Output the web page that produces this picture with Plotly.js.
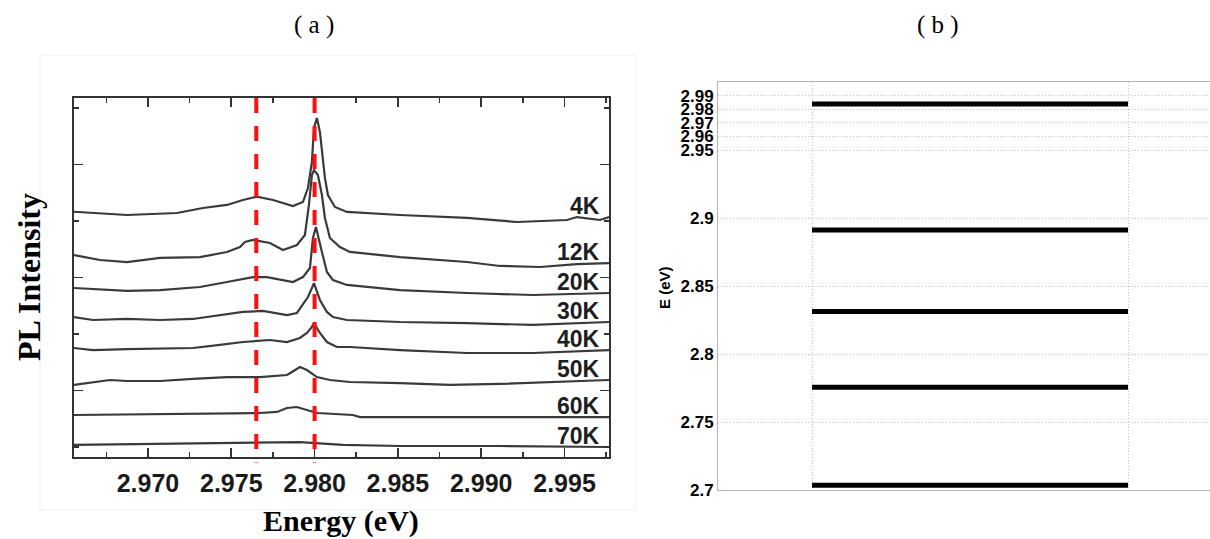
<!DOCTYPE html>
<html><head><meta charset="utf-8">
<script src="https://cdn.plot.ly/plotly-3.0.1.min.js"></script>
<style>html,body{margin:0;padding:0;background:#fff;}#chart{width:1210px;height:539px;}</style>
</head><body><div id="chart"></div>
<script>
// ---------- Panel (a): PL spectra ----------
const temps = ['4K','12K','20K','30K','40K','50K','60K','70K'];

const e4K = [2.96556,2.96694,2.96874,2.97174,2.97330,2.97474,2.97570,2.97654,2.97750,2.97870,2.97930,2.97960,2.97984,2.97996,2.98014,2.98032,2.98044,2.98062,2.98080,2.98122,2.98194,2.98513,2.98915,2.99215,2.99515,2.99575,2.99713,2.99767];
const i4K = [20.82,20.71,20.53,20.71,21.15,21.42,21.86,22.15,21.86,21.33,21.68,22.92,25.22,28.23,29.12,27.88,26.11,23.81,22.30,21.24,20.80,20.53,20.27,19.91,20.09,20.35,20.09,20.35];

const e12K = [2.96556,2.96712,2.96874,2.97072,2.97312,2.97474,2.97552,2.97582,2.97630,2.97732,2.97810,2.97894,2.97942,2.97966,2.97984,2.97996,2.98020,2.98044,2.98062,2.98092,2.98152,2.98212,2.98513,2.98915,2.99113,2.99353,2.99575,2.99767];
const i12K = [16.99,16.55,16.37,16.73,16.81,17.26,17.70,18.14,18.32,18.05,17.43,17.88,18.76,21.42,24.07,24.51,24.07,22.30,20.27,18.50,17.70,17.26,16.81,16.37,16.02,15.93,16.19,16.28];

const e20K = [2.96556,2.96874,2.97072,2.97312,2.97474,2.97630,2.97714,2.97810,2.97870,2.97930,2.97972,2.97990,2.98008,2.98044,2.98074,2.98110,2.98194,2.98513,2.98915,2.99311,2.99767];
const i20K = [14.07,13.81,13.89,14.16,14.60,15.04,15.04,14.78,14.60,15.04,15.84,18.50,19.47,17.26,15.49,14.78,14.34,13.89,13.63,13.45,13.63];

const e30K = [2.96556,2.96670,2.96874,2.97072,2.97270,2.97432,2.97570,2.97690,2.97834,2.97894,2.97930,2.97960,2.97984,2.97996,2.98032,2.98074,2.98110,2.98194,2.98513,2.98915,2.99311,2.99767];
const i30K = [11.50,11.24,11.33,11.24,11.33,11.68,11.95,12.04,11.68,11.86,12.57,13.27,14.07,14.51,13.01,11.95,11.50,11.24,11.06,10.97,10.80,11.06];

const e40K = [2.96556,2.96670,2.96874,2.97270,2.97432,2.97570,2.97732,2.97834,2.97912,2.97954,2.97984,2.97996,2.98032,2.98074,2.98134,2.98212,2.98513,2.98915,2.99311,2.99767];
const i40K = [8.76,8.58,8.67,8.76,9.03,9.29,9.47,9.29,9.65,10.09,10.62,10.97,10.09,9.29,8.85,8.85,8.58,8.32,8.32,8.58];

const e50K = [2.96556,2.96772,2.96874,2.97072,2.97270,2.97474,2.97672,2.97834,2.97864,2.97912,2.97954,2.98014,2.98092,2.98212,2.98513,2.98813,2.99113,2.99413,2.99767];
const i50K = [5.49,5.93,5.84,5.84,6.02,6.19,6.19,6.37,6.64,7.08,6.81,6.19,5.93,5.75,5.66,5.49,5.58,5.75,5.93];

const e60K = [2.96556,2.97312,2.97672,2.97774,2.97834,2.97894,2.97954,2.98014,2.98230,2.98272,2.99767];
const i60K = [2.83,2.92,3.01,3.10,3.45,3.54,3.27,3.01,2.83,2.65,2.65];

const e70K = [2.96556,2.97312,2.97912,2.98170,2.98513,2.99113,2.99767];
const i70K = [0.18,0.35,0.44,0.18,0.09,0.09,0.00];

const dashedE = [2.9765, 2.9800];
const energyTicks = [2.970, 2.975, 2.980, 2.985, 2.990, 2.995];

// ---------- Panel (b): energy levels ----------
const levelE = [2.9838, 2.8912, 2.8312, 2.7755, 2.7035];
const levelTicks = [2.7, 2.75, 2.8, 2.85, 2.9, 2.95, 2.96, 2.97, 2.98, 2.99];
const levelTickText = ['2.7','2.75','2.8','2.85','2.9','2.95','2.96','2.97','2.98','2.99'];

// ---------- build ----------
const W = 1210, H = 539;
const px = v => v / W, py = v => 1 - v / H;
const sans = 'Liberation Sans, Arial, sans-serif';
const serif = 'Liberation Serif, Times New Roman, serif';

const spectraE = [e4K, e12K, e20K, e30K, e40K, e50K, e60K, e70K];
const spectraI = [i4K, i12K, i20K, i30K, i40K, i50K, i60K, i70K];

const traces = [];
spectraE.forEach((ex, k) => {
  traces.push({x: ex, y: spectraI[k], type: 'scatter', mode: 'lines', xaxis: 'x', yaxis: 'y',
    line: {color: '#3a3a3a', width: 2.2}, hoverinfo: 'skip', showlegend: false});
});

const lx = [], ly = [];
levelE.forEach(e => { lx.push(1, 2, null); ly.push(e, e, null); });
traces.push({x: lx, y: ly, type: 'scatter', mode: 'lines', xaxis: 'x2', yaxis: 'y2',
  line: {color: '#000', width: 5}, hoverinfo: 'skip', showlegend: false});

const ann = (o) => Object.assign({xref: 'paper', yref: 'paper', showarrow: false, xanchor: 'center', yanchor: 'middle'}, o);
const annotations = [
  ann({text: '( a )', x: px(314), y: py(25), font: {family: serif, size: 25, color: '#000'}}),
  ann({text: '( b )', x: px(938), y: py(25), font: {family: serif, size: 25, color: '#000'}}),
  ann({text: 'PL Intensity', x: px(29), y: py(277), textangle: -90,
       font: {family: serif, size: 32, color: '#000', weight: 'bold'}}),
  ann({text: 'Energy (eV)', x: px(341), y: py(521),
       font: {family: serif, size: 30, color: '#000', weight: 'bold'}}),
  ann({text: 'E (eV)', x: px(664), y: py(288), textangle: -90,
       font: {family: sans, size: 15, color: '#000', weight: 'bold'}})
];
temps.forEach((t, k) => {
  const yy = spectraI[k][spectraI[k].length - 1] + 1.0;
  annotations.push({text: t, xref: 'x', yref: 'y', x: 2.99725, y: yy, xanchor: 'right', yanchor: 'middle',
    showarrow: false, font: {family: sans, size: 23, color: '#1e1e1e', weight: 'bold'}});
});

const shapes = [
  {type: 'rect', xref: 'paper', yref: 'paper', x0: px(40), x1: px(636), y0: py(510), y1: py(55),
   line: {color: '#efefef', width: 1}, layer: 'below'}
];
dashedE.forEach(e => {
  shapes.push({type: 'line', xref: 'x', yref: 'y domain', x0: e, x1: e, y0: 1, y1: -0.015,
    line: {color: '#ff1010', width: 4, dash: '15px,13px'}});
});

const layout = {
  width: W, height: H, margin: {l: 0, r: 0, t: 0, b: 0},
  paper_bgcolor: '#fff', plot_bgcolor: '#fff', showlegend: false,
  xaxis: {domain: [px(74), px(609)], range: [2.96556, 2.99767], tickvals: energyTicks,
    ticktext: energyTicks.map(v => v.toFixed(3)),
    ticks: 'inside', ticklen: 9, tickwidth: 1.6, tickcolor: '#333',
    minor: {dtick: 0.0025, tick0: 2.97, ticks: 'inside', ticklen: 5, tickwidth: 1.6, tickcolor: '#333'},
    showline: true, linecolor: '#333', linewidth: 2, mirror: 'ticks', showgrid: false, zeroline: false,
    tickfont: {family: sans, size: 25, color: '#1a1a1a', weight: 'bold'}, ticklabelstandoff: 3},
  yaxis: {domain: [py(457), py(98)], range: [-0.885, 30.885], tick0: 5, dtick: 10,
    ticks: 'inside', ticklen: 9, tickwidth: 1.6, tickcolor: '#333',
    minor: {dtick: 5, tick0: 0, ticks: 'inside', ticklen: 5, tickwidth: 1.6, tickcolor: '#333'},
    showticklabels: false, showline: true, linecolor: '#333', linewidth: 2, mirror: 'ticks',
    showgrid: false, zeroline: false},
  xaxis2: {domain: [px(718), 1], range: [0.7025, 2.2595], anchor: 'y2', tickvals: [1, 2],
    showticklabels: false, ticks: '', showgrid: true, gridcolor: '#c4c4c4', griddash: '1px,2px', gridwidth: 1,
    showline: true, linecolor: '#b5b5b5', linewidth: 1, mirror: true, zeroline: false},
  yaxis2: {domain: [py(490), py(82)], range: [2.7, 3.0], anchor: 'x2', tickvals: levelTicks,
    ticktext: levelTickText, ticks: '', showgrid: true, gridcolor: '#c4c4c4', griddash: '1px,2px', gridwidth: 1,
    showline: true, linecolor: '#b5b5b5', linewidth: 1, mirror: false, zeroline: false,
    tickfont: {family: sans, size: 17, color: '#000', weight: 'bold'}},
  annotations: annotations, shapes: shapes
};

Plotly.newPlot('chart', traces, layout, {staticPlot: true, displayModeBar: false});
</script></body></html>
